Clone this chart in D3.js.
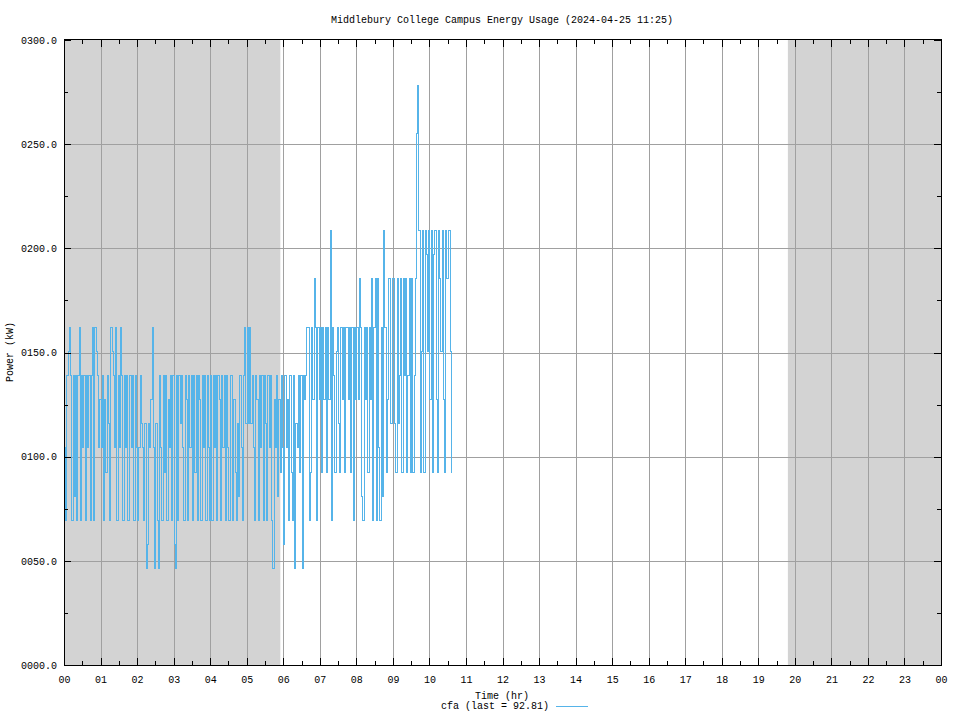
<!DOCTYPE html>
<html><head><meta charset="utf-8">
<script src="https://cdn.jsdelivr.net/npm/d3@7"></script>
<style>
body{margin:0;background:#fff}
text{font-family:"Liberation Mono","DejaVu Sans Mono",monospace;font-size:10px;fill:#000}
</style>
</head><body><svg id="c" width="960" height="720" style="display:block;background:#fff"></svg>
<script>
// ---- data ----
const chartTitle = "Middlebury College Campus Energy Usage (2024-04-25 11:25)";
const xLabel = "Time (hr)";
const yLabel = "Power (kW)";
const seriesName = "cfa";
const lastValue = "92.81";
const hourTicks = [0,1,2,3,4,5,6,7,8,9,10,11,12,13,14,15,16,17,18,19,20,21,22,23,24];
const powerTicks = [0,50,100,150,200,250,300];
const powerMinorTicks = [25,75,125,175,225,275];
const nightBands = [[0,5.92],[19.81,24]];
const startHour = 0;
const stepMinutes = 2;
const cfaKW = [
 // 00h
 104.4,69.6,139.2,150.8,162.4,139.2,69.6,139.2,81.2,139.2,69.6,139.2,162.4,69.6,139.2,104.4,139.2,69.6,139.2,104.4,139.2,69.6,139.2,162.4,69.6,162.4,150.8,139.2,104.4,127.6,
 // 01h
 104.4,139.2,69.6,127.6,92.8,139.2,116,69.6,162.4,150.8,139.2,104.4,162.4,69.6,139.2,104.4,162.4,139.2,69.6,139.2,104.4,139.2,69.6,139.2,139.2,104.4,139.2,69.6,139.2,104.4,
 // 02h
 69.6,104.4,139.2,116,104.4,69.6,116,46.4,58,116,104.4,127.6,162.4,104.4,46.4,116,69.6,46.4,139.2,104.4,69.6,139.2,92.8,139.2,69.6,127.6,104.4,139.2,69.6,139.2,
 // 03h
 58,46.4,139.2,69.6,139.2,116,139.2,104.4,69.6,139.2,127.6,69.6,139.2,104.4,139.2,69.6,139.2,92.8,139.2,69.6,139.2,127.6,69.6,139.2,104.4,139.2,69.6,139.2,104.4,69.6,
 // 04h
 139.2,69.6,139.2,104.4,139.2,69.6,139.2,127.6,69.6,139.2,104.4,139.2,69.6,139.2,104.4,69.6,139.2,139.2,69.6,127.6,92.8,69.6,116,81.2,139.2,104.4,69.6,139.2,162.4,116,
 // 05h
 162.4,116,162.4,116,139.2,104.4,69.6,139.2,127.6,69.6,139.2,104.4,139.2,69.6,139.2,116,69.6,139.2,104.4,139.2,69.6,46.4,127.6,104.4,139.2,81.2,127.6,92.8,139.2,104.4,
 // 06h
 58,139.2,104.4,127.6,69.6,139.2,92.8,69.6,139.2,46.4,116,104.4,139.2,92.8,139.2,46.4,139.2,127.6,139.2,162.4,162.4,69.6,92.8,162.4,127.6,185.6,162.4,69.6,162.4,127.6,
 // 07h
 162.4,92.8,162.4,127.6,162.4,92.8,162.4,127.6,208.8,69.6,162.4,139.2,92.8,150.8,162.4,116,92.8,162.4,127.6,162.4,92.8,162.4,162.4,127.6,162.4,92.8,162.4,69.6,162.4,127.6,
 // 08h
 162.4,127.6,185.6,162.4,81.2,69.6,162.4,127.6,162.4,92.8,162.4,127.6,185.6,69.6,162.4,185.6,69.6,185.6,104.4,69.6,162.4,81.2,208.8,162.4,92.8,127.6,185.6,185.6,116,185.6,
 // 09h
 185.6,116,92.8,185.6,116,139.2,185.6,92.8,185.6,139.2,185.6,92.8,139.2,185.6,92.8,185.6,92.8,139.2,185.6,255.2,278.4,208.8,92.8,150.8,208.8,92.8,208.8,197.2,150.8,208.8,
 // 10h
 127.6,208.8,92.8,197.2,208.8,127.6,92.8,208.8,185.6,150.8,208.8,127.6,92.8,208.8,185.6,208.8,208.8,150.8,92.8
];

// ---- chart ----
const svg = d3.select("#c");
const L = 64, R = 941, T = 40, B = 665;
const x = d3.scaleLinear().domain([0,24]).range([L,R]);
const y = d3.scaleLinear().domain([0,300]).range([B,T]);
const px = v => Math.round(v) + 0.5;

svg.append("rect").attr("width",960).attr("height",720).attr("fill","#fff");

// night shading
svg.append("g").selectAll("rect").data(nightBands).join("rect")
  .attr("x", d => x(d[0])).attr("width", d => x(d[1]) - x(d[0]))
  .attr("y", T).attr("height", B - T).attr("fill", "#d3d3d3");

// grid
const grid = svg.append("g").attr("stroke","#a0a0a0").attr("stroke-width",1).attr("shape-rendering","crispEdges");
grid.selectAll(".gv").data(hourTicks.filter(h => h > 0 && h < 24)).join("line")
  .attr("x1", d => px(x(d))).attr("x2", d => px(x(d))).attr("y1", T).attr("y2", B);
grid.selectAll(".gh").data(powerTicks.filter(v => v > 0 && v < 300)).join("line")
  .attr("x1", L).attr("x2", R).attr("y1", d => px(y(d))).attr("y2", d => px(y(d)));

// data
const pts = cfaKW.map((v,i) => ({t: startHour + i*stepMinutes/60, v}));
svg.append("path").datum(pts)
  .attr("fill","none").attr("stroke","#56b4e9").attr("stroke-width",1)
  .attr("shape-rendering","crispEdges")
  .attr("d", d3.line().x(d => px(x(d.t))).y(d => px(y(d.v))).curve(d3.curveStepAfter));

// axes
const halfHours = hourTicks.slice(0,-1).map(h => h + 0.5);
function style(g){ g.select(".domain").remove(); g.selectAll("line").attr("stroke","#000").attr("shape-rendering","crispEdges"); }
const hourFmt = h => String(h % 24).padStart(2,"0");
svg.append("g").attr("transform",`translate(0,${B})`)
  .call(d3.axisBottom(x).tickValues(hourTicks).tickSize(-7).tickPadding(11).tickFormat(hourFmt)).call(style);
svg.append("g").attr("transform",`translate(0,${B})`)
  .call(d3.axisBottom(x).tickValues(halfHours).tickSize(-4).tickFormat("")).call(style);
svg.append("g").attr("transform",`translate(0,${T})`)
  .call(d3.axisTop(x).tickValues(hourTicks).tickSize(-7).tickFormat("")).call(style);
svg.append("g").attr("transform",`translate(0,${T})`)
  .call(d3.axisTop(x).tickValues(halfHours).tickSize(-4).tickFormat("")).call(style);
svg.append("g").attr("transform",`translate(${L},0)`)
  .call(d3.axisLeft(y).tickValues(powerTicks).tickSize(-7).tickPadding(7).tickFormat(d3.format("06.1f"))).call(style);
svg.append("g").attr("transform",`translate(${L},0)`)
  .call(d3.axisLeft(y).tickValues(powerMinorTicks).tickSize(-4).tickFormat("")).call(style);
svg.append("g").attr("transform",`translate(${R},0)`)
  .call(d3.axisRight(y).tickValues(powerTicks).tickSize(-7).tickFormat("")).call(style);
svg.append("g").attr("transform",`translate(${R},0)`)
  .call(d3.axisRight(y).tickValues(powerMinorTicks).tickSize(-4).tickFormat("")).call(style);

// border
svg.append("rect").attr("x", L + 0.5).attr("y", T - 0.5).attr("width", R - L).attr("height", B - T + 0.5)
  .attr("fill","none").attr("stroke","#000").attr("shape-rendering","crispEdges");

// texts
svg.append("text").attr("x", 502).attr("y", 23).attr("text-anchor","middle").text(chartTitle);
svg.append("text").attr("x", 502).attr("y", 699).attr("text-anchor","middle").text(xLabel);
svg.append("text").attr("transform","translate(13,352) rotate(-90)").attr("text-anchor","middle").text(yLabel);
svg.append("text").attr("x", 549).attr("y", 709).attr("text-anchor","end").text(`${seriesName} (last = ${lastValue})`);
svg.append("line").attr("x1",556).attr("x2",588).attr("y1",706.5).attr("y2",706.5).attr("stroke","#56b4e9").attr("stroke-width",1).attr("shape-rendering","crispEdges");
</script></body></html>
